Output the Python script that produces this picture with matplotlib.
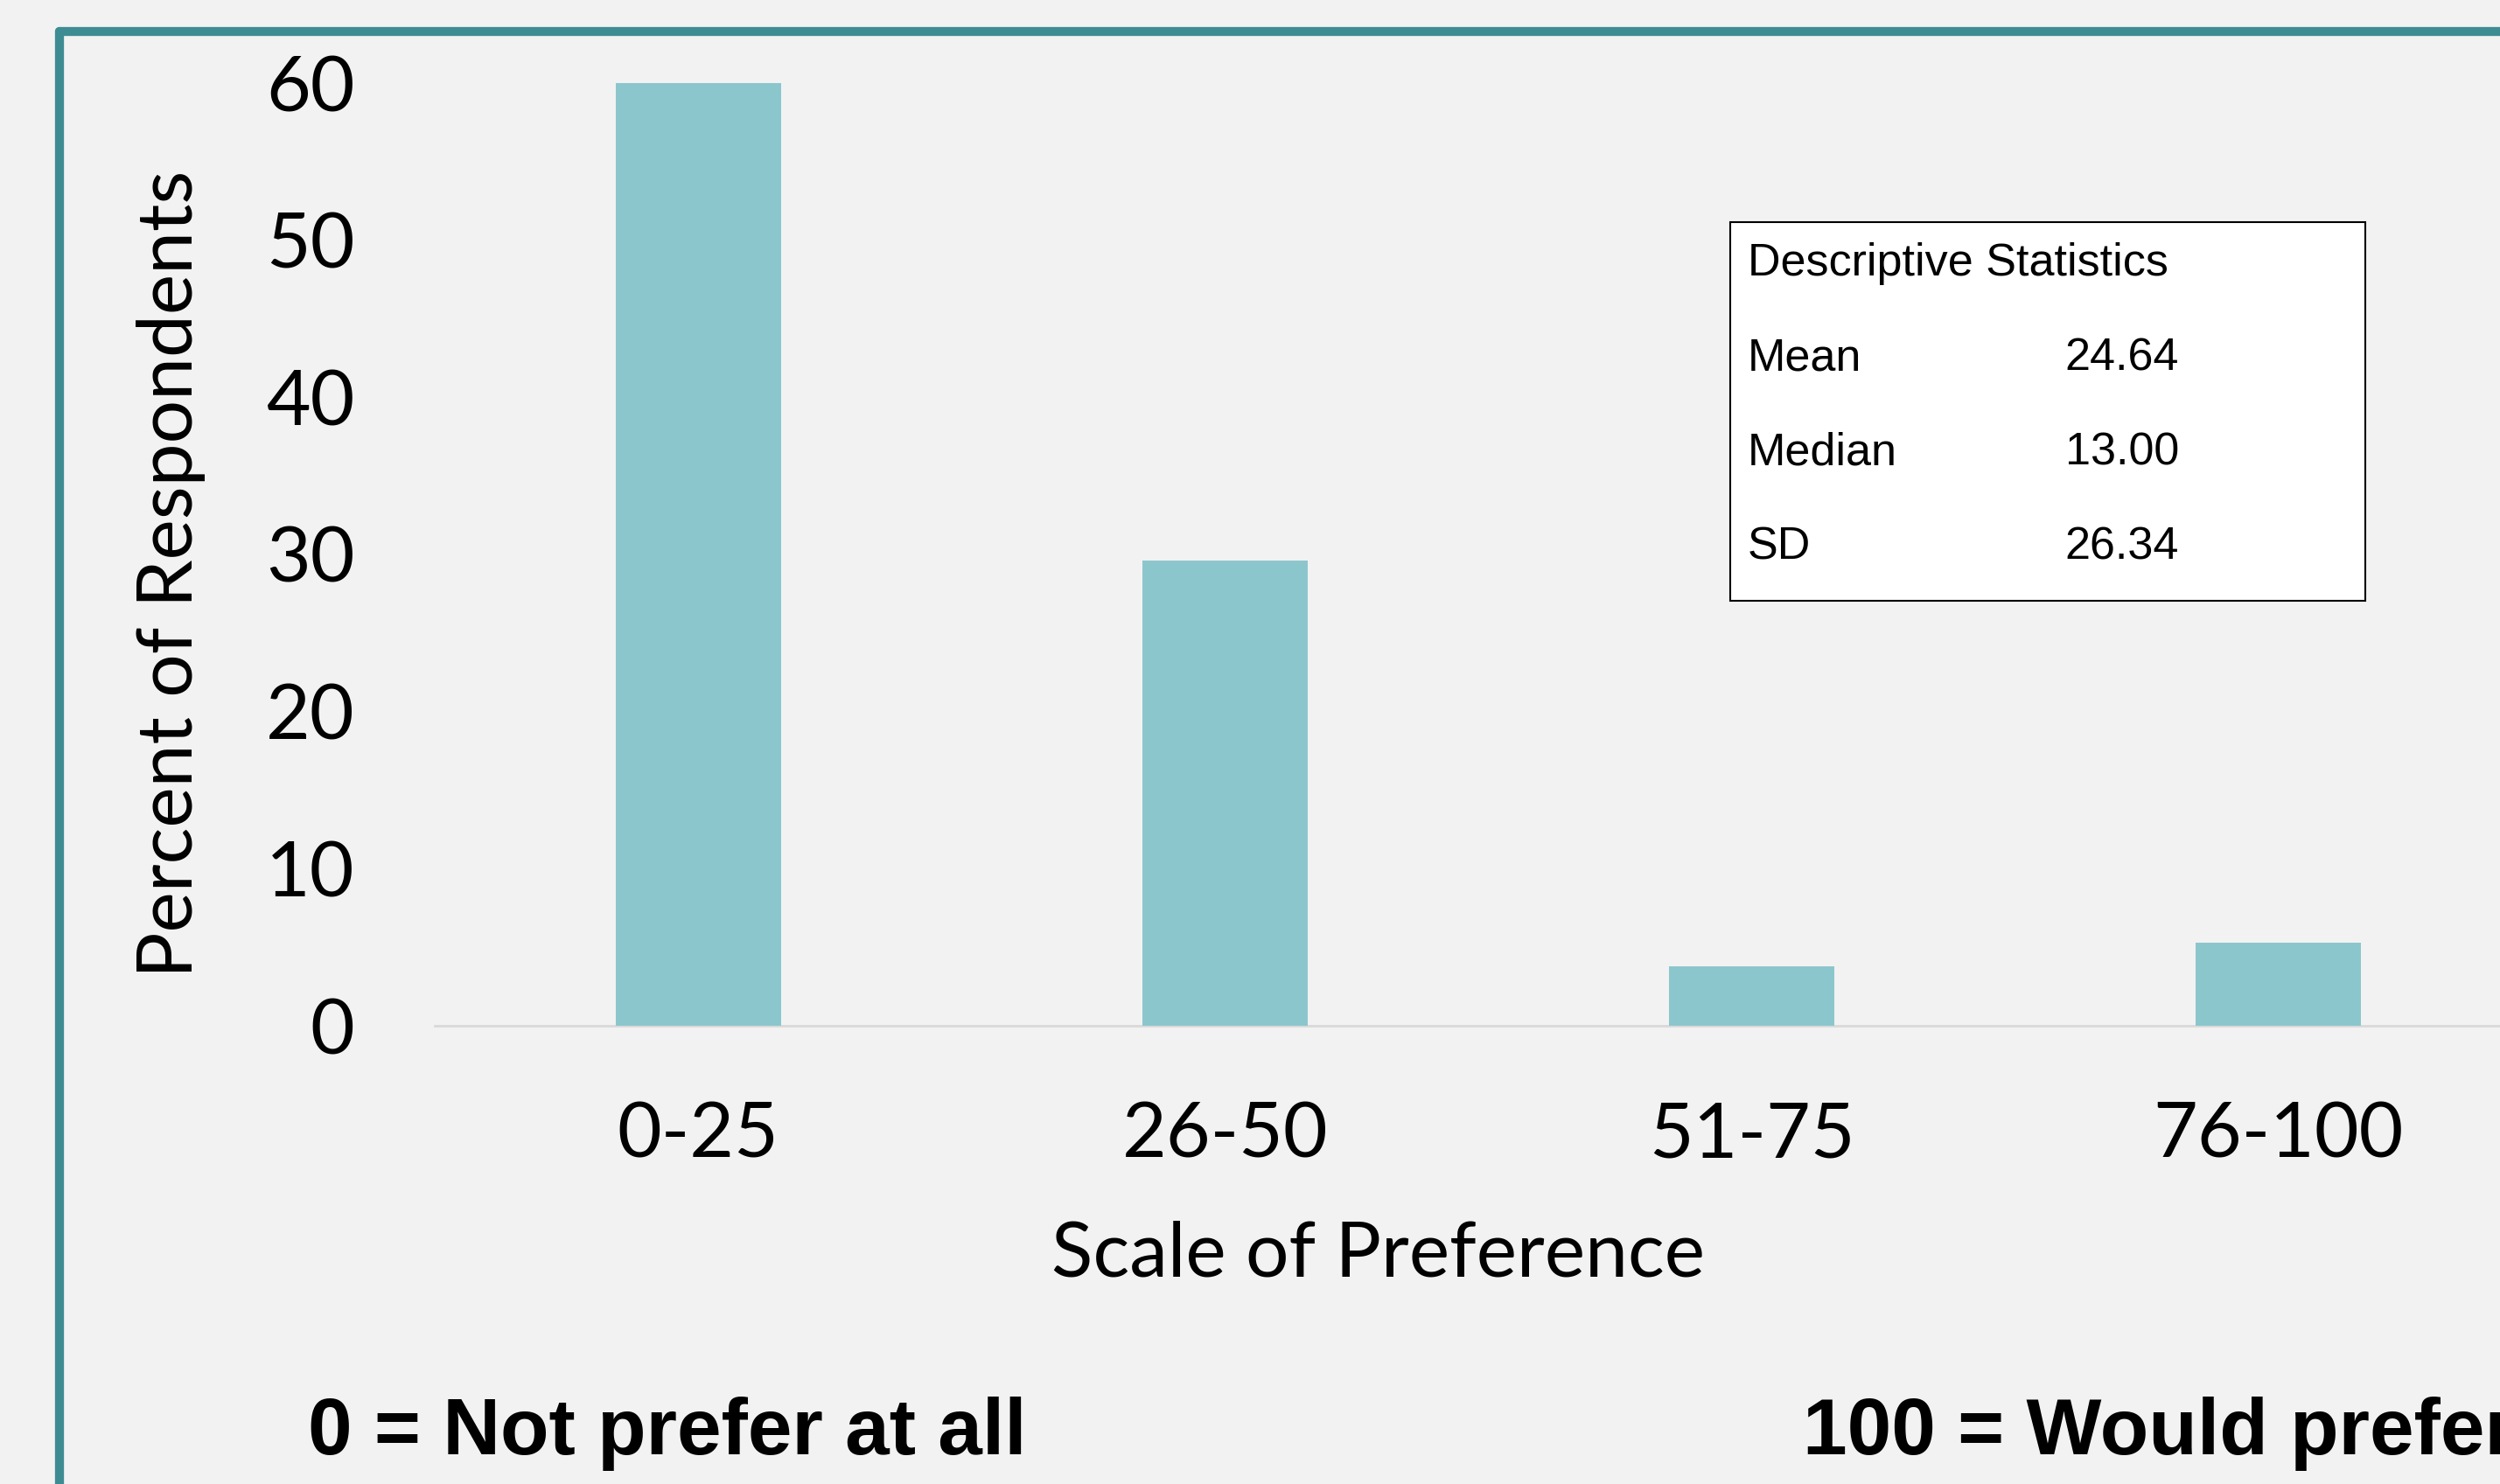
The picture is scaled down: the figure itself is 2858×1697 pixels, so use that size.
import matplotlib
matplotlib.use("Agg")
import matplotlib.pyplot as plt
from matplotlib.patches import Rectangle
from matplotlib.lines import Line2D

# Survey results: share of respondents per preference band
categories = ["0-25", "26-50", "51-75", "76-100"]
percents = [60.0, 29.6, 3.8, 5.3]
y_ticks = [0, 10, 20, 30, 40, 50, 60]

stat_names = ["Mean", "Median", "SD"]
stat_values = ["24.64", "13.00", "26.34"]

W, H = 2858, 1697
BG = "#F2F2F2"
BAR = "#8CC6CD"
TEAL = "#3E8C93"


def fx(x):
    return x / W


def fy(y):
    return 1 - y / H


fig = plt.figure(figsize=(W / 100, H / 100), dpi=100, facecolor=BG)

# slide frame: teal border along the top and left edges
fig.add_artist(Line2D([fx(68), fx(68)], [fy(36), fy(H + 20)], color=TEAL, lw=7.4,
                      solid_capstyle="round", transform=fig.transFigure))
fig.add_artist(Line2D([fx(68), fx(W + 20)], [fy(36), fy(36)], color=TEAL, lw=7.4,
                      solid_capstyle="round", transform=fig.transFigure))

ax = fig.add_axes([fx(497), fy(1173), fx(2906 - 497), (1173 - 95) / H])
ax.set_facecolor(BG)
ax.patch.set_alpha(0)

x = range(len(categories))
ax.bar(x, percents, width=0.314, color=BAR, zorder=2)
ax.axhline(0, color="#D9D9D9", lw=2, zorder=1, clip_on=False)

ax.set_xlim(-0.5, 3.5)
ax.set_ylim(0, 60)
ax.set_yticks(y_ticks)
ax.set_xticks(list(x))
ax.set_xticklabels(categories)
for s in ax.spines.values():
    s.set_visible(False)
ax.tick_params(axis="both", length=0, labelsize=63)
ax.tick_params(axis="y", pad=66)
ax.tick_params(axis="x", pad=62)
for lab in ax.get_xticklabels() + ax.get_yticklabels():
    lab.set_fontfamily("Lato")

fig.text(fx(1576), fy(1459), "Scale of Preference", family="Lato", fontsize=63,
         ha="center", va="baseline")
fig.text(fx(196), fy(656), "Percent of Respondents", family="Lato", fontsize=63,
         rotation=90, ha="center", va="center")

# descriptive statistics box
fig.add_artist(Rectangle((fx(1978), fy(687)), fx(2704 - 1978), (687 - 254) / H,
                         facecolor="white", edgecolor="black", lw=1.5,
                         transform=fig.transFigure))
fig.text(fx(1998), fy(315), "Descriptive Statistics", family="Liberation Sans",
         fontsize=37.5, va="baseline")
for i, (name, val) in enumerate(zip(stat_names, stat_values)):
    yb = 423 + 108.5 * i
    fig.text(fx(1998), fy(yb), name, family="Liberation Sans", fontsize=37.5,
             va="baseline")
    fig.text(fx(2491), fy(yb), val, family="Liberation Sans", fontsize=37.5,
             va="baseline", ha="right")

fig.text(fx(352), fy(1663), "0 = Not prefer at all", family="Liberation Sans",
         fontweight="bold", fontsize=65.5, va="baseline")
fig.text(fx(2061), fy(1663), "100 = Would prefer", family="Liberation Sans",
         fontweight="bold", fontsize=65.5, va="baseline")

fig.savefig("out.png", dpi=100, facecolor=BG)
